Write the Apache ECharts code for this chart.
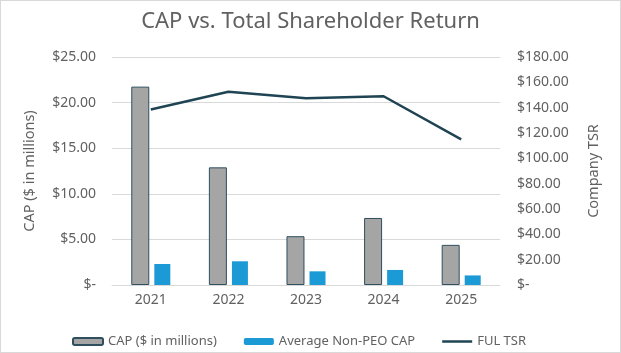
<!DOCTYPE html>
<html>
<head>
<meta charset="utf-8">
<script src="https://cdn.jsdelivr.net/npm/echarts@6/dist/echarts.min.js"></script>
<style>
    html, body { margin: 0; padding: 0; background: #fff; }
    #chart { width: 621px; height: 353px; box-sizing: border-box; border: 1px solid #d9d9d9; }
</style>
</head>
<body>
<div id="chart"></div>
<script>
// data
const years = ['2021', '2022', '2023', '2024', '2025'];
const capMillions = [21.75, 12.9, 5.35, 7.35, 4.4];
const avgNonPeoCap = [2.3, 2.6, 1.5, 1.65, 1.05];
const fulTsr = [138.5, 152.5, 147.5, 149, 115];

const font = 'Noto Sans';
const grey = '#616161';

function money(v) {
    if (v === 0) return '$-';
    return '$' + v.toFixed(2);
}

let chart = echarts.init(document.getElementById('chart'));

let option = {
    animation: false,
    textStyle: { fontFamily: font },
    title: {
        text: 'CAP vs. Total Shareholder Return',
        left: 'center',
        top: 5,
        textStyle: { fontFamily: font, fontSize: 22, fontWeight: 'normal', color: grey }
    },
    legend: {
        left: 66,
        top: 329,
        itemWidth: 30,
        itemHeight: 7,
        itemGap: 27,
        textStyle: { fontFamily: font, fontSize: 13, color: grey },
        data: [
            { name: 'CAP ($ in millions)' },
            { name: 'Average Non-PEO CAP' },
            { name: 'FUL TSR', icon: 'path://M0,0 L30,0 L30,2.5 L0,2.5 Z', itemStyle: { color: '#1f4453' } }
        ]
    },
    grid: {
        left: 111,
        right: 120,
        top: 56,
        bottom: 67
    },
    xAxis: {
        type: 'category',
        data: years,
        axisTick: { show: false },
        axisLine: { lineStyle: { color: '#d9d9d9' } },
        axisLabel: { color: grey, fontSize: 14, margin: 8 }
    },
    yAxis: [
        {
            type: 'value',
            min: 0,
            max: 25,
            interval: 5,
            name: 'CAP ($ in millions)',
            nameLocation: 'middle',
            nameGap: 75,
            nameTextStyle: { color: grey, fontSize: 14.5 },
            axisLabel: { color: grey, fontSize: 14, formatter: money, margin: 16 },
            splitLine: { lineStyle: { color: '#d9d9d9' } }
        },
        {
            type: 'value',
            min: 0,
            max: 180,
            interval: 20,
            name: 'Company TSR',
            nameLocation: 'middle',
            nameGap: 86,
            nameRotate: 90,
            nameTextStyle: { color: grey, fontSize: 14.5 },
            axisLabel: { color: grey, fontSize: 14, formatter: money, margin: 17 },
            splitLine: { show: false }
        }
    ],
    series: [
        {
            name: 'CAP ($ in millions)',
            type: 'bar',
            data: capMillions,
            barWidth: 18,
            barGap: '28%',
            itemStyle: { color: '#a5a5a5', borderColor: '#2f4f5f', borderWidth: 1 }
        },
        {
            name: 'Average Non-PEO CAP',
            type: 'bar',
            data: avgNonPeoCap,
            barWidth: 16,
            itemStyle: { color: '#1b9ad6' }
        },
        {
            name: 'FUL TSR',
            type: 'line',
            yAxisIndex: 1,
            data: fulTsr,
            symbol: 'none',
            lineStyle: { color: '#1f4453', width: 2.5 },
            itemStyle: { color: '#1f4453' }
        }
    ]
};

chart.setOption(option);
</script>
</body>
</html>
